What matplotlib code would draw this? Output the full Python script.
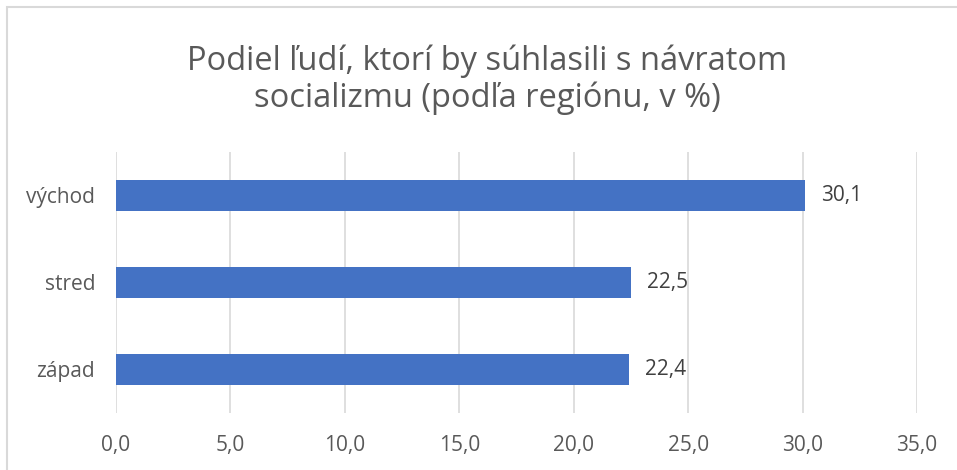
import matplotlib.pyplot as plt
from matplotlib.patches import Rectangle

# Data
regions = ['západ', 'stred', 'východ']
values = [22.4, 22.5, 30.1]
xticks = [0, 5, 10, 15, 20, 25, 30, 35]

plt.rcParams['font.family'] = ['Open Sans', 'DejaVu Sans']

W, H = 957, 470
fig = plt.figure(figsize=(W / 100, H / 100), dpi=100)

# chart border (cut off on right and bottom like the screenshot)
fig.patches.append(Rectangle((7 / W, -0.1), 1.2, 1 - 7 / H + 0.1,
                             transform=fig.transFigure, fill=False,
                             edgecolor='#d9d9d9', linewidth=1.5))

ax = fig.add_axes([116 / W, 1 - 413 / H, (917 - 116) / W, (413 - 152) / H])

y = range(len(regions))
ax.barh(y, values, height=0.36, color='#4472C4', zorder=3)

for yi, v in zip(y, values):
    ax.text(v + 0.72, yi, f'{v:.1f}'.replace('.', ','), va='center', ha='left',
            fontsize=15, color='#404040')

ax.set_xlim(0, 35)
ax.set_ylim(-0.5, 2.5)
ax.set_xticks(xticks)
ax.set_xticklabels([f'{t:.1f}'.replace('.', ',') for t in xticks])
ax.set_yticks(list(y))
ax.set_yticklabels(regions)
ax.grid(axis='x', color='#d9d9d9', linewidth=1.2, zorder=0)
ax.tick_params(axis='both', length=0, labelsize=15, labelcolor='#595959')
ax.tick_params(axis='x', pad=16)
ax.tick_params(axis='y', pad=15)
for s in ax.spines.values():
    s.set_visible(False)

fig.text(487 / W, 1 - 80 / H,
         'Podiel ľudí, ktorí by súhlasili s návratom\nsocializmu (podľa regiónu, v %)',
         ha='center', va='center', fontsize=23.5, color='#595959', linespacing=1.15)

fig.savefig('out.png', dpi=100)
